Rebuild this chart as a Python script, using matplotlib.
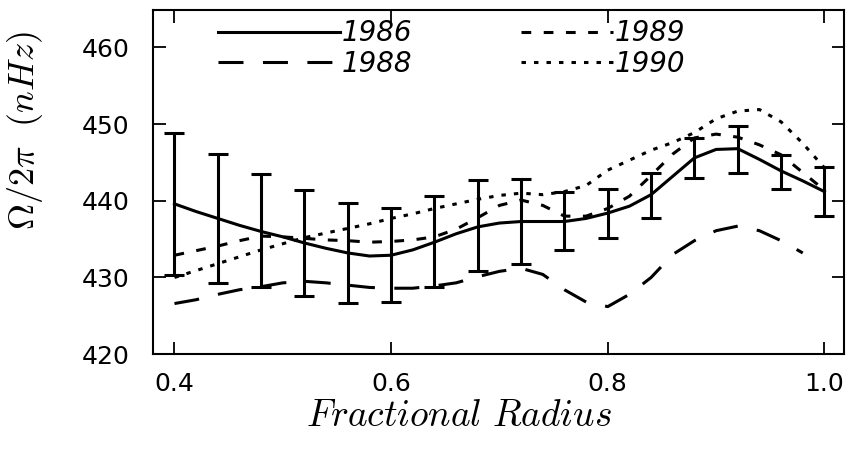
import numpy as np
import matplotlib
matplotlib.use("Agg")
from matplotlib import pyplot as plt

# radius grid for the curves, values in nHz
radius = [0.40, 0.42, 0.44, 0.46, 0.48, 0.50, 0.52, 0.54, 0.56, 0.58, 0.60,
          0.62, 0.64, 0.66, 0.68, 0.70, 0.72, 0.74, 0.76, 0.78, 0.80,
          0.82, 0.84, 0.86, 0.88, 0.90, 0.92, 0.94, 0.96, 0.98, 1.00]

rot_1986 = [439.6, 438.6, 437.7, 436.8, 436.0, 435.3, 434.5, 433.8, 433.2, 432.8, 432.9,
            433.6, 434.6, 435.7, 436.6, 437.1, 437.3, 437.3, 437.3, 437.7, 438.4,
            439.3, 440.8, 443.2, 445.6, 446.7, 446.8, 445.4, 443.9, 442.6, 441.2]

rot_1988 = [426.6, 427.1, 427.8, 428.4, 428.8, 429.3, 429.5, 429.3, 429.0, 428.7, 428.6,
            428.6, 428.9, 429.3, 430.1, 430.8, 431.2, 430.4, 428.4, 426.8, 426.2,
            427.8, 430.0, 433.0, 434.8, 436.1, 436.7, 436.1, 434.8, 433.2]

rot_1989 = [432.9, 433.5, 434.1, 434.8, 435.4, 435.3, 435.1, 434.9, 434.8, 434.6, 434.7,
            434.9, 435.3, 436.3, 437.8, 439.4, 440.1, 439.4, 438.0, 438.0, 439.0,
            440.6, 443.3, 446.1, 448.2, 448.7, 448.3, 447.3, 446.0, 443.7, 441.4]

rot_1990 = [430.0, 430.9, 431.8, 432.7, 433.6, 434.4, 435.2, 435.8, 436.4, 437.0, 437.7,
            438.3, 439.0, 439.6, 440.2, 440.7, 441.0, 440.8, 441.2, 442.0, 444.0,
            445.3, 446.6, 447.6, 448.9, 450.7, 451.7, 451.9, 450.3, 447.5, 444.3]

# error bars (1986)
bar_r = [0.40, 0.44, 0.48, 0.52, 0.56, 0.60, 0.64, 0.68,
         0.72, 0.76, 0.80, 0.84, 0.88, 0.92, 0.96, 1.00]
bar_mid = [439.6, 437.7, 436.1, 434.5, 433.2, 432.9, 434.7, 436.8,
           437.3, 437.35, 438.4, 440.7, 445.6, 446.7, 443.8, 441.2]
bar_err = [9.25, 8.4, 7.4, 6.9, 6.5, 6.1, 5.9, 5.9,
           5.5, 3.75, 3.2, 2.95, 2.6, 3.1, 2.2, 3.15]

x_ticks = [0.4, 0.6, 0.8, 1.0]
y_ticks = [420, 430, 440, 450, 460]

plt.rcParams['lines.scale_dashes'] = False
plt.rcParams['mathtext.fontset'] = 'cm'

fig = plt.figure(figsize=(8.49, 4.5), dpi=100)
ax = fig.add_axes([0.180, 0.213, 0.814, 0.765])

lw = 2.2
l86, = ax.plot(radius, rot_1986, color='black', lw=lw)
l88, = ax.plot(radius[:len(rot_1988)], rot_1988, color='black', lw=lw, dashes=(18, 14))
l89, = ax.plot(radius, rot_1989, color='black', lw=lw, dashes=(7, 9))
l90, = ax.plot(radius, rot_1990, color='black', lw=lw, dashes=(3.2, 5.8))

ax.errorbar(bar_r, bar_mid, yerr=bar_err, fmt='none', ecolor='black',
            elinewidth=2.2, capsize=7, capthick=2.2)

ax.set_xlim(0.38, 1.018)
ax.set_ylim(420, 464.9)
ax.set_xticks(x_ticks)
ax.set_xticklabels(['0.4', '0.6', '0.8', '1.0'])
ax.set_yticks(y_ticks)
ax.tick_params(direction='in', length=9, width=1.3, top=True, right=True,
               labelsize=18)
ax.tick_params(axis='x', pad=13)
ax.tick_params(axis='y', pad=17)
for s in ax.spines.values():
    s.set_linewidth(1.5)

ax.set_xlabel(r'$Fractional\ Radius$', fontsize=27, va='center')
ax.xaxis.set_label_coords(0.443, -0.18)
ax.set_ylabel(r'$\Omega/2\pi\ \ (nHz)$', fontsize=26, va='center')
ax.yaxis.set_label_coords(-0.185, 0.649)

legend_font = {'style': 'italic', 'size': 20}
leg1 = ax.legend([l86, l88], ['1986', '1988'], frameon=False, loc='center left',
                 bbox_to_anchor=(0.0945, 0.888), handlelength=4.4,
                 handletextpad=0.05, labelspacing=0.08, borderpad=0,
                 borderaxespad=0, prop=legend_font)
ax.add_artist(leg1)
ax.legend([l89, l90], ['1989', '1990'], frameon=False, loc='center left',
          bbox_to_anchor=(0.533, 0.888), handlelength=3.3,
          handletextpad=0.05, labelspacing=0.08, borderpad=0,
          borderaxespad=0, prop=legend_font)

fig.savefig('out.png', dpi=100)
